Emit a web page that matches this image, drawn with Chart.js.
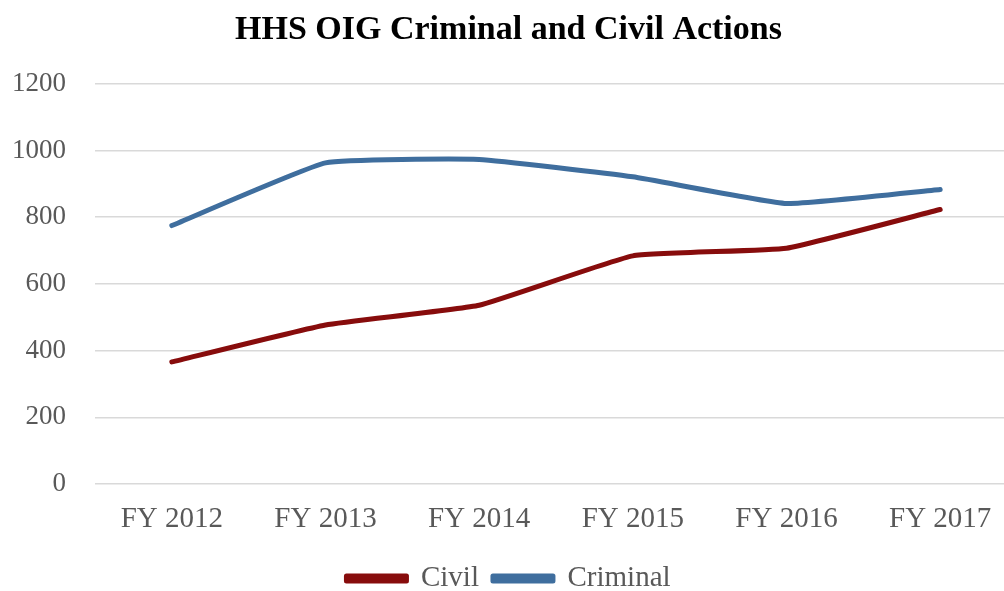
<!DOCTYPE html>
<html>
<head>
<meta charset="utf-8">
<script src="https://cdn.jsdelivr.net/npm/chart.js@4"></script>
<style>
  html, body { margin: 0; padding: 0; overflow: hidden; background: #ffffff; }
  #wrap { width: 1036px; height: 591px; position: relative; }
</style>
</head>
<body>
<div id="wrap"><canvas id="c" width="1036" height="591"></canvas></div>
<script>
const chartTitle = "HHS OIG Criminal and Civil Actions";
const categories = ["FY 2012", "FY 2013", "FY 2014", "FY 2015", "FY 2016", "FY 2017"];
const civilValues = [366, 477, 536, 684, 707, 823];
const criminalValues = [775, 963, 973, 921, 841, 883];
const yTicks = [0, 200, 400, 600, 800, 1000, 1200];

const serif = "'Liberation Serif', 'Times New Roman', serif";

new Chart(document.getElementById('c'), {
  type: 'line',
  data: {
    labels: categories,
    datasets: [
      {
        label: 'Civil',
        data: civilValues,
        borderColor: '#870C0C',
        backgroundColor: '#870C0C',
        borderWidth: 5,
        pointRadius: 0,
        tension: 0.12,
        borderCapStyle: 'round',
        borderJoinStyle: 'round'
      },
      {
        label: 'Criminal',
        data: criminalValues,
        borderColor: '#3F6E9E',
        backgroundColor: '#3F6E9E',
        borderWidth: 5,
        pointRadius: 0,
        tension: 0.12,
        borderCapStyle: 'round',
        borderJoinStyle: 'round'
      }
    ]
  },
  options: {
    responsive: false,
    animation: false,
    layout: { padding: { left: 0, right: 19, top: 0, bottom: -12 } },
    plugins: {
      title: {
        display: true,
        text: chartTitle,
        color: '#000000',
        font: { family: serif, size: 34, weight: 'bold' },
        padding: { top: 10, bottom: 33 }
      },
      legend: {
        display: true,
        position: 'bottom',
        labels: {
          boxWidth: 60,
          boxHeight: 5,
          padding: 14,
          color: '#595959',
          font: { family: serif, size: 29 }
        }
      },
      tooltip: { enabled: false }
    },
    scales: {
      x: {
        offset: true,
        afterFit: (axis) => { axis.height = 66; },
        grid: { display: false },
        border: { display: false },
        ticks: {
          color: '#595959',
          font: { family: serif, size: 29 },
          padding: 10,
          maxRotation: 0
        }
      },
      y: {
        min: 0,
        max: 1200,
        afterBuildTicks: (axis) => { axis.ticks = yTicks.map(v => ({ value: v })); },
        afterFit: (axis) => { axis.width = 95; },
        grid: { color: '#d9d9d9', lineWidth: 1.5, drawTicks: false },
        border: { display: false },
        ticks: {
          color: '#595959',
          font: { family: serif, size: 27 },
          padding: 29,
          callback: (v) => String(v)
        }
      }
    }
  }
});
</script>
</body>
</html>
